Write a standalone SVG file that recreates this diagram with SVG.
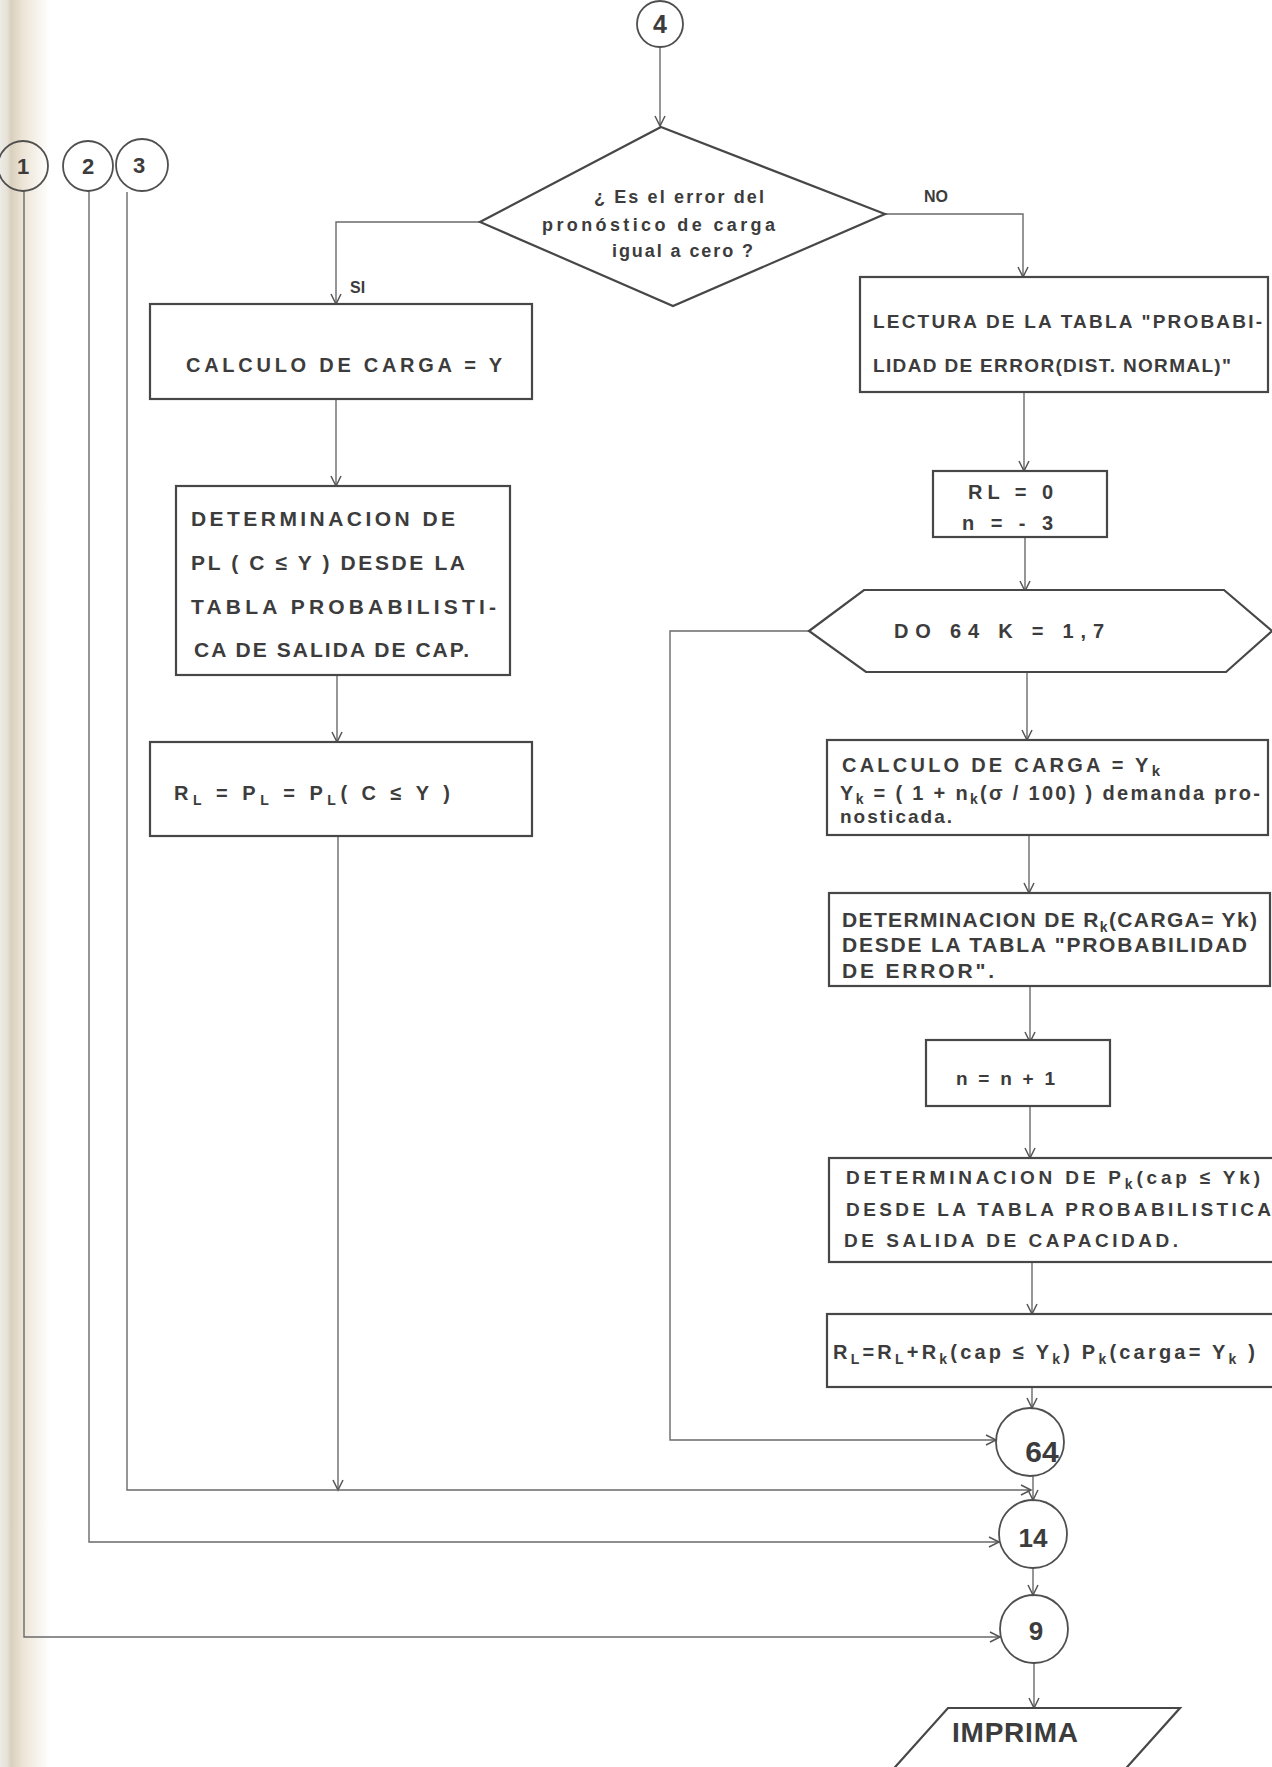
<svg xmlns="http://www.w3.org/2000/svg" width="1272" height="1767" viewBox="0 0 1272 1767">
  <defs>
    <linearGradient id="pageEdge" x1="0" y1="0" x2="1" y2="0">
      <stop offset="0" stop-color="#ecebe6"/>
      <stop offset="0.14" stop-color="#e7e2d8"/>
      <stop offset="0.22" stop-color="#d9cfbd"/>
      <stop offset="0.45" stop-color="#ece4d6"/>
      <stop offset="1" stop-color="#ffffff"/>
    </linearGradient>
    <marker id="arr" viewBox="-12 -7 14 14" refX="0" refY="0" markerWidth="14" markerHeight="14" markerUnits="userSpaceOnUse" orient="auto">
      <path d="M-10,-5 L0,0 L-10,5" fill="none" stroke="#555" stroke-width="1.5"/>
    </marker>
    <style>
      .box { fill: #ffffff; stroke: #474747; stroke-width: 2.2; }
      .ring { fill: none; stroke: #4f4f4f; stroke-width: 1.8; }
      .ln { fill: none; stroke: #6a6a6a; stroke-width: 1.4; }
      .t { font-family: "Liberation Sans", Arial, sans-serif; font-weight: bold; fill: #3c3c3c; }
      .num { font-family: "Liberation Sans", Arial, sans-serif; font-weight: bold; fill: #3c3c3c; text-anchor: middle; }
    </style>
  </defs>

  <rect x="0" y="0" width="1272" height="1767" fill="#ffffff"/>
  <!-- shaded binding edge on the left -->
  <rect x="0" y="0" width="50" height="1767" fill="url(#pageEdge)"/>

  <!-- connectors -->
  <g id="connectors">
    <path class="ln" d="M660,47 V126" marker-end="url(#arr)"/>
    <path class="ln" d="M480,222 H336 V304" marker-end="url(#arr)"/>
    <path class="ln" d="M885,214 H1023 V277" marker-end="url(#arr)"/>
    <path class="ln" d="M336,399 V486" marker-end="url(#arr)"/>
    <path class="ln" d="M337,675 V742" marker-end="url(#arr)"/>
    <path class="ln" d="M338,836 V1490" marker-end="url(#arr)"/>
    <path class="ln" d="M127,192 V1490 H1031" marker-end="url(#arr)"/>
    <path class="ln" d="M89,191 V1542 H999" marker-end="url(#arr)"/>
    <path class="ln" d="M24,191 V1637 H1000" marker-end="url(#arr)"/>
    <path class="ln" d="M1024,392 V471" marker-end="url(#arr)"/>
    <path class="ln" d="M1025,537 V591" marker-end="url(#arr)"/>
    <path class="ln" d="M1027,672 V740" marker-end="url(#arr)"/>
    <path class="ln" d="M1029,835 V893" marker-end="url(#arr)"/>
    <path class="ln" d="M1030,986 V1042" marker-end="url(#arr)"/>
    <path class="ln" d="M1030,1106 V1158" marker-end="url(#arr)"/>
    <path class="ln" d="M1032,1262 V1314" marker-end="url(#arr)"/>
    <path class="ln" d="M1032,1387 V1408" marker-end="url(#arr)"/>
    <path class="ln" d="M809,631 H670 V1440 H996" marker-end="url(#arr)"/>
    <path class="ln" d="M1033,1476 V1500" marker-end="url(#arr)"/>
    <path class="ln" d="M1033,1568 V1595" marker-end="url(#arr)"/>
    <path class="ln" d="M1034,1663 V1708" marker-end="url(#arr)"/>
  </g>

  <!-- off-page connectors 1, 2, 3 -->
  <g id="conn-1">
    <circle class="ring" cx="23" cy="166" r="25"/>
    <text class="num" x="23" y="174" font-size="22">1</text>
  </g>
  <g id="conn-2">
    <circle class="ring" cx="88" cy="166" r="25"/>
    <text class="num" x="88" y="174" font-size="22">2</text>
  </g>
  <g id="conn-3">
    <circle class="ring" cx="142" cy="165" r="26"/>
    <text class="num" x="139" y="173" font-size="22">3</text>
  </g>

  <!-- entry connector 4 -->
  <g id="conn-4">
    <circle class="ring" cx="660" cy="24" r="23"/>
    <text class="num" x="660" y="33" font-size="25">4</text>
  </g>

  <!-- decision -->
  <g id="decision">
    <path class="box" d="M661,127 L885,214 L673,306 L480,222 Z" stroke-width="1.8"/>
    <text class="t" x="594" y="203" font-size="18" textLength="170">¿ Es el error del</text>
    <text class="t" x="542" y="231" font-size="18" textLength="233">pronóstico de carga</text>
    <text class="t" x="612" y="257" font-size="18" textLength="141">igual a cero ?</text>
    <text class="t" x="350" y="293" font-size="16">SI</text>
    <text class="t" x="924" y="202" font-size="16">NO</text>
  </g>

  <!-- left branch -->
  <g id="calc-carga">
    <rect class="box" x="150" y="304" width="382" height="95"/>
    <text class="t" x="186" y="372" font-size="20" textLength="316">CALCULO DE  CARGA = Y</text>
  </g>
  <g id="det-pl">
    <rect class="box" x="176" y="486" width="334" height="189"/>
    <text class="t" x="191" y="526" font-size="21" textLength="264">DETERMINACION  DE</text>
    <text class="t" x="191" y="570" font-size="21" textLength="274">PL ( C ≤ Y ) DESDE LA</text>
    <text class="t" x="191" y="614" font-size="21" textLength="305">TABLA  PROBABILISTI-</text>
    <text class="t" x="194" y="657" font-size="21" textLength="275">CA DE  SALIDA DE CAP.</text>
  </g>
  <g id="rl-pl">
    <rect class="box" x="150" y="742" width="382" height="94"/>
    <text class="t" x="174" y="800" font-size="20" textLength="276">R<tspan dy="5" font-size="14">L</tspan><tspan dy="-5"> = P</tspan><tspan dy="5" font-size="14">L</tspan><tspan dy="-5"> = P</tspan><tspan dy="5" font-size="14">L</tspan><tspan dy="-5">(  C ≤ Y )</tspan></text>
  </g>

  <!-- right branch -->
  <g id="lectura">
    <rect class="box" x="860" y="277" width="408" height="115"/>
    <text class="t" x="873" y="328" font-size="19" textLength="389">LECTURA  DE LA TABLA "PROBABI-</text>
    <text class="t" x="873" y="372" font-size="19" textLength="358">LIDAD DE ERROR(DIST. NORMAL)"</text>
  </g>
  <g id="init">
    <rect class="box" x="933" y="471" width="174" height="66"/>
    <text class="t" x="968" y="499" font-size="20" textLength="85">RL = 0</text>
    <text class="t" x="962" y="530" font-size="20" textLength="91">n = - 3</text>
  </g>
  <g id="do-loop">
    <path class="box" d="M809,631 L864,590 L1224,590 L1272,631 L1226,672 L866,672 Z"/>
    <text class="t" x="894" y="638" font-size="20" textLength="210">DO 64   K = 1,7</text>
  </g>
  <g id="calc-yk">
    <rect class="box" x="827" y="740" width="441" height="95"/>
    <text class="t" x="842" y="772" font-size="20" textLength="318">CALCULO DE CARGA = Y<tspan dy="4" font-size="15">k</tspan></text>
    <text class="t" x="840" y="800" font-size="20" textLength="420">Y<tspan dy="4" font-size="14">k</tspan><tspan dy="-4"> = ( 1 + n</tspan><tspan dy="4" font-size="14">k</tspan><tspan dy="-4">(σ / 100) ) demanda pro-</tspan></text>
    <text class="t" x="840" y="823" font-size="19" textLength="112">nosticada.</text>
  </g>
  <g id="det-rk">
    <rect class="box" x="829" y="893" width="441" height="93"/>
    <text class="t" x="842" y="927" font-size="21" textLength="415">DETERMINACION DE R<tspan dy="5" font-size="14">k</tspan><tspan dy="-5">(CARGA= Yk)</tspan></text>
    <text class="t" x="842" y="952" font-size="21" textLength="405">DESDE LA TABLA "PROBABILIDAD</text>
    <text class="t" x="842" y="978" font-size="21" textLength="152">DE ERROR".</text>
  </g>
  <g id="incr">
    <rect class="box" x="926" y="1040" width="184" height="66"/>
    <text class="t" x="956" y="1085" font-size="19" textLength="99">n = n + 1</text>
  </g>
  <g id="det-pk">
    <rect class="box" x="829" y="1158" width="445" height="104"/>
    <text class="t" x="846" y="1184" font-size="19" textLength="414">DETERMINACION DE P<tspan dy="5" font-size="14">k</tspan><tspan dy="-5">(cap ≤ Yk)</tspan></text>
    <text class="t" x="846" y="1216" font-size="19" textLength="425">DESDE LA TABLA PROBABILISTICA</text>
    <text class="t" x="844" y="1247" font-size="19" textLength="334">DE SALIDA DE CAPACIDAD.</text>
  </g>
  <g id="accum">
    <rect class="box" x="827" y="1314" width="447" height="73"/>
    <text class="t" x="833" y="1359" font-size="20" textLength="422">R<tspan dy="5" font-size="14">L</tspan><tspan dy="-5">=R</tspan><tspan dy="5" font-size="14">L</tspan><tspan dy="-5">+R</tspan><tspan dy="5" font-size="14">k</tspan><tspan dy="-5">(cap ≤ Y</tspan><tspan dy="5" font-size="14">k</tspan><tspan dy="-5">) P</tspan><tspan dy="5" font-size="14">k</tspan><tspan dy="-5">(carga= Y</tspan><tspan dy="5" font-size="14">k</tspan><tspan dy="-5"> )</tspan></text>
  </g>

  <!-- junction connectors -->
  <g id="conn-64">
    <circle class="ring" cx="1030" cy="1442" r="34"/>
    <text class="num" x="1042" y="1462" font-size="30">64</text>
  </g>
  <g id="conn-14">
    <circle class="ring" cx="1033" cy="1534" r="34"/>
    <text class="num" x="1033" y="1547" font-size="26">14</text>
  </g>
  <g id="conn-9">
    <circle class="ring" cx="1034" cy="1629" r="34"/>
    <text class="num" x="1036" y="1640" font-size="26">9</text>
  </g>

  <!-- output -->
  <g id="imprima">
    <path class="box" d="M948,1708 L1180,1708 L1111,1785 L879,1785 Z"/>
    <text class="t" x="952" y="1742" font-size="28" textLength="126">IMPRIMA</text>
  </g>
</svg>
